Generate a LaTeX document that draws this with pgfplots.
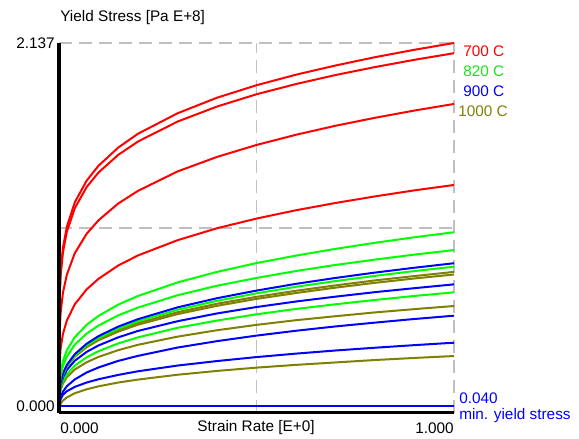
\documentclass[border=0pt]{standalone}
\usepackage{fontspec}
\setmainfont{Liberation Sans}
\usepackage{pgfplots}
\usepackage{pgfplotstable}
\pgfplotsset{compat=1.18}

\definecolor{cred}{RGB}{255,0,0}
\definecolor{cgreen}{RGB}{0,255,0}
\definecolor{cgreentxt}{RGB}{20,230,20}
\definecolor{cblue}{RGB}{0,0,255}
\definecolor{colive}{RGB}{128,128,0}
\definecolor{cgrid}{RGB}{192,192,192}

% yield stress curves: 700 C (R), 820 C (G), 900 C (B), 1000 C (O)
\pgfplotstableread{
x     R1    R2    R3    R4    G1    G2    G3    G4    B1    B2    B3    B4    O1    O2    O3    O4
0     0     0     0     0     0     0     0     0     0     0     0     0     0     0     0     0
0.001 0.638 0.620 0.433 0.269 0.162 0.146 0.114 0.094 0.117 0.107 0.057 0.052 0.118 0.116 0.089 0.034
0.004 0.813 0.791 0.575 0.370 0.235 0.212 0.170 0.141 0.174 0.158 0.091 0.080 0.174 0.170 0.132 0.053
0.01  0.955 0.928 0.695 0.457 0.301 0.271 0.222 0.183 0.228 0.205 0.123 0.105 0.225 0.220 0.170 0.072
0.02  1.077 1.048 0.800 0.535 0.363 0.327 0.272 0.224 0.278 0.249 0.155 0.126 0.273 0.268 0.207 0.090
0.04  1.217 1.183 0.923 0.628 0.438 0.395 0.332 0.274 0.340 0.302 0.194 0.151 0.331 0.325 0.251 0.114
0.07  1.342 1.305 1.035 0.714 0.509 0.459 0.391 0.322 0.400 0.353 0.234 0.176 0.387 0.380 0.293 0.137
0.1   1.428 1.389 1.113 0.775 0.561 0.505 0.433 0.357 0.444 0.390 0.263 0.195 0.428 0.420 0.324 0.154
0.15  1.533 1.491 1.210 0.852 0.626 0.564 0.487 0.402 0.499 0.437 0.301 0.220 0.479 0.470 0.363 0.176
0.2   1.613 1.568 1.283 0.910 0.676 0.609 0.530 0.437 0.542 0.474 0.330 0.241 0.519 0.510 0.394 0.193
0.3   1.731 1.683 1.395 0.998 0.754 0.680 0.596 0.492 0.610 0.530 0.378 0.274 0.582 0.571 0.441 0.221
0.4   1.821 1.770 1.479 1.067 0.815 0.735 0.648 0.534 0.663 0.575 0.415 0.300 0.631 0.619 0.478 0.243
0.5   1.893 1.841 1.548 1.123 0.866 0.780 0.691 0.570 0.707 0.612 0.447 0.323 0.671 0.659 0.509 0.262
0.6   1.954 1.900 1.607 1.171 0.909 0.820 0.729 0.601 0.746 0.644 0.475 0.343 0.706 0.693 0.536 0.278
0.7   2.007 1.952 1.659 1.213 0.948 0.855 0.762 0.628 0.780 0.672 0.500 0.361 0.737 0.724 0.559 0.292
0.8   2.055 1.998 1.705 1.251 0.983 0.886 0.792 0.653 0.811 0.698 0.522 0.377 0.766 0.752 0.581 0.306
0.9   2.098 2.040 1.747 1.286 1.015 0.915 0.820 0.676 0.839 0.721 0.543 0.392 0.791 0.777 0.600 0.318
1     2.137 2.078 1.785 1.317 1.044 0.941 0.845 0.697 0.865 0.743 0.562 0.406 0.815 0.800 0.618 0.329
}\curves

\begin{document}
\begin{tikzpicture}[font=\fontsize{11.5}{13.5}\selectfont, every node/.style={inner sep=0pt}]
\useasboundingbox (0,0) rectangle (434.25pt,329.25pt);
\begin{axis}[
    at={(44.25pt,19.5pt)}, anchor=south west,
    scale only axis, width=296.25pt, height=277.5pt,
    xmin=0, xmax=1, ymin=0, ymax=2.137,
    axis line style={draw=none}, ticks=none,
    clip=false,
    every axis plot/.append style={line width=1.5pt, line join=round},
]
% grid
\draw[cgrid, line width=1.1pt, dash pattern=on 9.75pt off 5.25pt]
    (axis cs:0,2.137) -- (axis cs:1,2.137)
    (axis cs:0,1.0685) -- (axis cs:1,1.0685)
    (axis cs:0.5,0) -- (axis cs:0.5,2.137)
    (axis cs:1,0) -- (axis cs:1,2.137);

\addplot[colive] table[y=O4] {\curves};
\addplot[colive] table[y=O3] {\curves};
\addplot[cblue]  table[y=B4] {\curves};
\addplot[cblue]  table[y=B3] {\curves};
\addplot[cgreen] table[y=G4] {\curves};
\addplot[cblue]  table[y=B2] {\curves};
\addplot[colive] table[y=O2] {\curves};
\addplot[colive] table[y=O1] {\curves};
\addplot[cgreen] table[y=G3] {\curves};
\addplot[cblue]  table[y=B1] {\curves};
\addplot[cgreen] table[y=G2] {\curves};
\addplot[cgreen] table[y=G1] {\curves};
\addplot[cred]   table[y=R4] {\curves};
\addplot[cred]   table[y=R3] {\curves};
\addplot[cred]   table[y=R2] {\curves};
\addplot[cred]   table[y=R1] {\curves};
% minimum yield stress
\addplot[cblue] coordinates {(0,0.040) (1,0.040)};

% axis lines
\draw[black, line width=3pt] (axis cs:0,0) -- (axis cs:0,2.137);
\draw[black, line width=2.25pt] (axis cs:0,0) -- (axis cs:1,0);
\end{axis}

\node[anchor=west] at (45pt,315.75pt) {Yield Stress [Pa E+8]};
\node[anchor=east] at (41.25pt,297pt) {2.137};
\node[anchor=east] at (41.25pt,24.75pt) {0.000};
\node[anchor=west] at (45pt,8.25pt) {0.000};
\node at (192pt,8.25pt) {Strain Rate [E+0]};
\node[anchor=east] at (340.5pt,8.25pt) {1.000};

\node[anchor=west, text=cred] at (347.25pt,291pt) {700 C};
\node[anchor=west, text=cgreentxt] at (347.25pt,276pt) {820 C};
\node[anchor=west, text=cblue] at (347.25pt,261pt) {900 C};
\node[anchor=west, text=colive] at (343.5pt,246pt) {1000 C};
\node[anchor=west, text=cblue] at (344.25pt,30.75pt) {0.040};
\node[anchor=west, text=cblue] at (344.25pt,17.25pt) {min. yield stress};
\end{tikzpicture}
\end{document}
